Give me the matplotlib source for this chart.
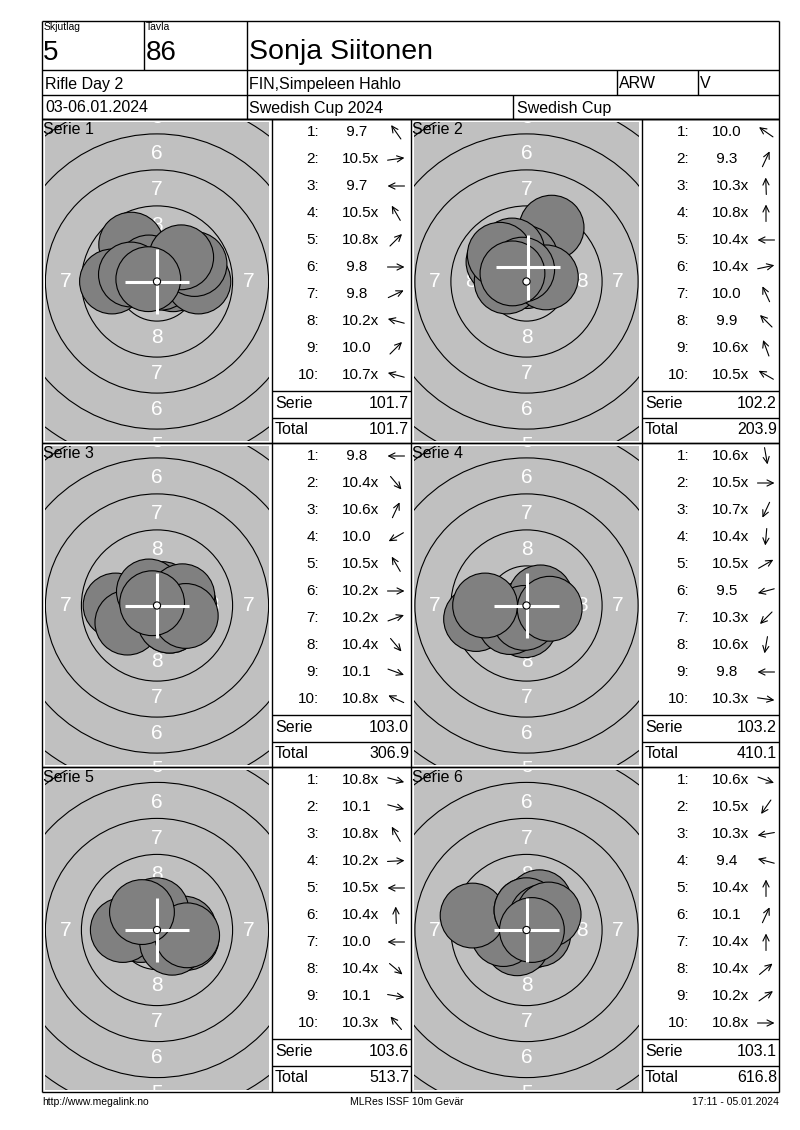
import numpy as np
import matplotlib
matplotlib.use("Agg")
import matplotlib.pyplot as plt
from matplotlib.patches import Circle, Rectangle

plt.rcParams["font.family"] = ["Liberation Sans", "DejaVu Sans"]

# header
relay = "5"
lane = "86"
shooter = "Sonja Siitonen"
event = "Rifle Day 2"
club = "FIN,Simpeleen Hahlo"
class_code = "ARW"
class_code2 = "V"
dates = "03-06.01.2024"
match_name = "Swedish Cup 2024"
cup_name = "Swedish Cup"
footer = ["http://www.megalink.no", "MLRes ISSF 10m Gevär", "17:11 - 05.01.2024"]

# shot scores and shot direction (degrees, 0 = right, 90 = up) per series
s1_scores = ["9.7", "10.5x", "9.7", "10.5x", "10.8x", "9.8", "9.8", "10.2x", "10.0", "10.7x"]
s1_dirs = [125, 8, 180, 120, 45, 0, 25, 165, 45, 165]
s2_scores = ["10.0", "9.3", "10.3x", "10.8x", "10.4x", "10.4x", "10.0", "9.9", "10.6x", "10.5x"]
s2_dirs = [145, 65, 92, 90, 180, 12, 115, 135, 110, 150]
s3_scores = ["9.8", "10.4x", "10.6x", "10.0", "10.5x", "10.2x", "10.2x", "10.4x", "10.1", "10.8x"]
s3_dirs = [180, -50, 65, 210, 120, 0, 20, -50, -20, 155]
s4_scores = ["10.6x", "10.5x", "10.7x", "10.4x", "10.5x", "9.5", "10.3x", "10.6x", "9.8", "10.3x"]
s4_dirs = [-80, 0, 245, -95, 30, 195, 225, -100, 180, -8]
s5_scores = ["10.8x", "10.1", "10.8x", "10.2x", "10.5x", "10.4x", "10.0", "10.4x", "10.1", "10.3x"]
s5_dirs = [-15, -15, 120, 3, 180, 92, 180, -40, -10, 130]
s6_scores = ["10.6x", "10.5x", "10.3x", "9.4", "10.4x", "10.1", "10.4x", "10.4x", "10.2x", "10.8x"]
s6_dirs = [-20, 235, 190, 165, 90, 65, 90, 40, 35, 0]

serie_sums = ["101.7", "102.2", "103.0", "103.2", "103.6", "103.1"]
running_totals = ["101.7", "203.9", "306.9", "410.1", "513.7", "616.8"]

# white cross marker offset from target centre (mm, x right / y up) as shown
cross_dx = [0.0, 0.1, 0.0, 0.0, 0.0, 0.0]
cross_dy = [0.0, 1.0, 0.0, 0.0, 0.0, 0.0]

all_scores = [s1_scores, s2_scores, s3_scores, s4_scores, s5_scores, s6_scores]
all_dirs = [s1_dirs, s2_dirs, s3_dirs, s4_dirs, s5_dirs, s6_dirs]

# ISSF 10m rifle target geometry (mm)
ring_radii = {10: 0.25, 9: 2.75, 8: 5.25, 7: 7.75, 6: 10.25, 5: 12.75, 4: 15.25}
pellet_r = 2.25
px_per_mm = 14.4

fig = plt.figure(figsize=(8, 11.3), dpi=100)
ax = fig.add_axes([0, 0, 1, 1])
ax.set_xlim(0, 800)
ax.set_ylim(1130, 0)
ax.axis("off")

def hline(y, x0, x1):
    ax.plot([x0, x1], [y, y], color="black", lw=1, solid_capstyle="butt")

def vline(x, y0, y1):
    ax.plot([x, x], [y0, y1], color="black", lw=1, solid_capstyle="butt")

L, R = 42, 779
top, bottom = 21, 1092

# header grid
hline(top, L, R)
hline(70, L, R)
hline(95, L, R)
hline(119, L, R)
vline(L, top, bottom)
vline(R, top, bottom)
hline(bottom, L, R)
vline(144, top, 70)
vline(247, top, 119)
vline(617, 70, 95)
vline(698, 70, 95)
vline(513, 95, 119)

ax.text(44, 27, "Skjutlag", fontsize=7.5, va="center")
ax.text(146, 27, "Tavla", fontsize=7.5, va="center")
ax.text(43, 53, relay, fontsize=20, va="center")
ax.text(146, 53, lane, fontsize=20, va="center")
ax.text(249, 52, shooter, fontsize=20.5, va="center")
ax.text(45, 84, event, fontsize=11.5, va="center")
ax.text(249, 84, club, fontsize=11.5, va="center")
ax.text(619, 84, class_code, fontsize=11.5, va="center")
ax.text(700, 84, class_code2, fontsize=11.5, va="center")
ax.text(45, 108, dates, fontsize=11.5, va="center")
ax.text(249, 108, match_name, fontsize=11.5, va="center")
ax.text(517, 108, cup_name, fontsize=11.5, va="center")

row_tops = [119, 443, 767]
row_bots = [443, 767, 1092]
target_cols = [(42, 272), (411, 642)]
table_cols = [(272, 411), (642, 779)]

for c in [272, 411, 642]:
    vline(c, 119, bottom)

for i in range(6):
    row, col = i // 2, i % 2
    y0, y1 = row_tops[row], row_bots[row]
    tx0, tx1 = target_cols[col]
    bx0, bx1 = table_cols[col]
    hline(y0, L, R)

    # target panel
    gx0, gx1, gy0, gy1 = tx0 + 3, tx1 - 3, y0 + 3, y1 - 2
    cx, cy = (gx0 + gx1) / 2, (gy0 + gy1) / 2
    clip = Rectangle((gx0, gy0), gx1 - gx0, gy1 - gy0, facecolor="#c0c0c0",
                     edgecolor="none", zorder=1)
    ax.add_patch(clip)
    for ring in [4, 5, 6, 7, 8, 9]:
        circ = Circle((cx, cy), ring_radii[ring] * px_per_mm, facecolor="none",
                      edgecolor="black", lw=0.8, zorder=2)
        ax.add_patch(circ)
        circ.set_clip_path(clip)
    for ring in [8, 7, 6, 5]:
        rmid = (ring_radii[ring] + ring_radii[ring + 1]) / 2 * px_per_mm - 2
        spots = [(0, -rmid), (0, rmid)]
        if rmid < (gx1 - gx0) / 2 - 8:
            spots += [(-rmid, 0), (rmid, 0)]
        for dx, dy in spots:
            t = ax.text(cx + dx, cy + dy, str(ring), color="white", fontsize=15,
                        ha="center", va="center", zorder=3, clip_on=True)
            t.set_clip_path(clip)

    vals = [float(s.rstrip("x")) for s in all_scores[i]]
    ang = np.radians(all_dirs[i])
    dist = (10.95 - np.array(vals)) * 2.5 * px_per_mm
    sx = cx + dist * np.cos(ang)
    sy = cy - dist * np.sin(ang)
    for x, y in zip(sx, sy):
        shot = Circle((x, y), pellet_r * px_per_mm, facecolor="#808080",
                      edgecolor="black", lw=0.8, zorder=4)
        ax.add_patch(shot)
        shot.set_clip_path(clip)
    mx = cx + cross_dx[i] * px_per_mm
    my = cy - cross_dy[i] * px_per_mm
    arm = pellet_r * px_per_mm
    ax.plot([mx - arm, mx + arm], [my, my], color="white", lw=2.2, zorder=5,
            solid_capstyle="butt")
    ax.plot([mx, mx], [my - arm, my + arm], color="white", lw=2.2, zorder=5,
            solid_capstyle="butt")
    ax.add_patch(Circle((cx, cy), 3.6, facecolor="white", edgecolor="black",
                        lw=0.8, zorder=6))
    ax.text(tx0 + 1, y0 + 10, f"Serie {i + 1}", fontsize=11.5, va="center", zorder=7)

    # score table
    for k, s in enumerate(all_scores[i]):
        ty = y0 + 13 + 27 * k
        ax.text(bx0 + 47, ty, f"{k + 1}:", fontsize=11, ha="right", va="center")
        txt = s if vals[k] >= 10 else " " + s
        ax.text(bx0 + 70, ty, txt, fontsize=11, ha="left", va="center")
        a = np.radians(all_dirs[i][k])
        ax_c, ay_c = bx0 + 124, ty
        hl = 8.5
        ax.annotate("", xy=(ax_c + hl * np.cos(a), ay_c - hl * np.sin(a)),
                    xytext=(ax_c - hl * np.cos(a), ay_c + hl * np.sin(a)),
                    arrowprops=dict(arrowstyle="->,head_length=0.45,head_width=0.22",
                                    lw=0.8, color="black", shrinkA=0, shrinkB=0,
                                    mutation_scale=10))
    hline(y0 + 272, bx0, bx1)
    hline(y0 + 299, bx0, bx1)
    ax.text(bx0 + 3, y0 + 285, "Serie", fontsize=11.5, va="center")
    ax.text(bx1 - 2, y0 + 285, serie_sums[i], fontsize=11.5, ha="right", va="center")
    ax.text(bx0 + 3, y0 + 311, "Total", fontsize=11.5, va="center")
    ax.text(bx1 - 2, y0 + 311, running_totals[i], fontsize=11.5, ha="right", va="center")

ax.text(L, 1102, footer[0], fontsize=7.5, va="center")
ax.text(407, 1102, footer[1], fontsize=7.5, ha="center", va="center")
ax.text(R, 1102, footer[2], fontsize=7.5, ha="right", va="center")

fig.savefig("out.png", dpi=100)
